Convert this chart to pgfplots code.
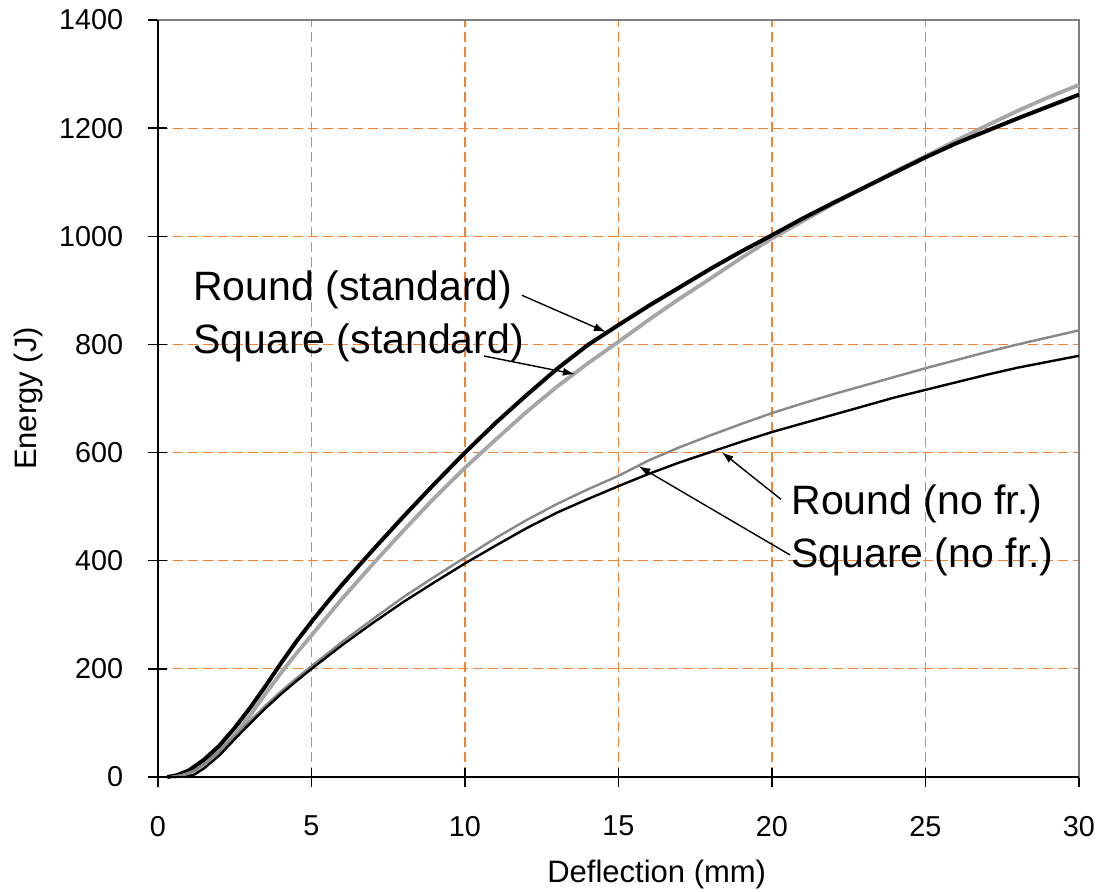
\documentclass[border=0pt]{standalone}
\usepackage{fontspec}
\setmainfont{Liberation Sans}
\usepackage{pgfplots}
\pgfplotsset{compat=1.18}
\usetikzlibrary{arrows.meta}
\definecolor{gridorange}{RGB}{240,130,50}
\definecolor{thickgray}{RGB}{166,166,166}
\definecolor{thingray}{RGB}{136,136,136}
\definecolor{framegray}{RGB}{128,128,128}
\begin{document}
\begin{tikzpicture}
\useasboundingbox (-79pt,-57pt) rectangle (470pt,388.5pt);
\begin{axis}[
  at={(0,0)}, anchor=south west,
  scale only axis, width=460.5pt, height=378.5pt,
  xmin=0, xmax=30, ymin=0, ymax=1400,
  xtick={0,5,...,30}, ytick={0,200,...,1400},
  tick pos=left, tick align=center,
  major tick length=9.5pt,
  every tick/.style={black, line width=0.7pt},
  axis line style={framegray, line width=0.8pt},
  grid=major,
  major grid style={gridorange, dash pattern=on 5pt off 2.5pt, line width=0.6pt},
  /pgf/number format/assume math mode=true,
  /pgf/number format/1000 sep={},
  ticklabel style={font=\fontsize{14.4}{17}\selectfont},
  yticklabel style={inner sep=0pt, anchor=east, xshift=-12.5pt},
  xticklabel style={inner sep=0pt, anchor=north, yshift=-14.5pt},
  xlabel={Deflection (mm)},
  ylabel={Energy (J)},
  label style={font=\fontsize{15.5}{18}\selectfont},
  xlabel style={at={([yshift=-52.7pt]axis description cs:0.5415,0)}, anchor=base, inner sep=0pt},
  ylabel style={at={([xshift=-60.5pt]axis description cs:0,0.5)}, anchor=base, inner sep=0pt},
  clip=false,
]
% Square (standard)
\addplot[thickgray, line width=1.9pt] coordinates {
(0.5,0)(0.8,3)(1.2,12)(1.5,24)(2,47)(2.5,78)(3,114)(3.5,154)(4,192)(4.5,228)(5,262)(5.5,296)(6,330)(7,394)(8,456)(9,516)(10,572)(11,624)(12,675)(13,722)(14,765)(15,805)(16,846)(17,885)(18,922)(19,960)(20,996)(21,1028)(22,1060)(23,1090)(24,1120)(25,1148)(26,1177)(27,1205)(28,1232)(29,1257)(30,1280)};
% Round (standard)
\addplot[black, line width=2pt] coordinates {
(0.3,0)(0.6,3)(1,12)(1.5,32)(2,58)(2.5,91)(3,128)(3.5,168)(4,210)(4.5,250)(5,287)(5.5,322)(6,356)(7,420)(8,482)(9,542)(10,600)(11,655)(12,706)(13,755)(14,799)(15,836)(16,872)(17,906)(18,940)(19,972)(20,1002)(21,1033)(22,1062)(23,1090)(24,1118)(25,1146)(26,1172)(27,1195)(28,1218)(29,1240)(30,1262)};
% Square (no fr.)
\addplot[thingray, line width=1.2pt] coordinates {
(0.4,0)(0.8,4)(1.2,12)(1.5,24)(2,48)(2.5,76)(3,104)(3.5,132)(4,158)(4.5,182)(5,205)(6,250)(7,292)(8,333)(9,370)(10,406)(11,442)(12,475)(13,505)(14,532)(15,557)(16,586)(17,610)(18,632)(19,653)(20,673)(21,691)(22,708)(23,724)(24,740)(25,756)(26,771)(27,786)(28,800)(29,813)(30,826)};
% Round (no fr.)
\addplot[black, line width=1.2pt] coordinates {
(0.9,0)(1.2,5)(1.5,16)(2,40)(2.5,70)(3,99)(3.5,127)(4,153)(4.5,177)(5,200)(6,244)(7,285)(8,324)(9,360)(10,395)(11,428)(12,460)(13,489)(14,514)(15,538)(16,561)(17,582)(18,601)(19,620)(20,638)(21,654)(22,670)(23,686)(24,702)(25,716)(26,730)(27,744)(28,757)(29,768)(30,779)};
\draw[black, line width=0.8pt] (rel axis cs:0,1) -- (rel axis cs:0,0) -- (rel axis cs:1,0);
% annotations
\begin{scope}[every node/.style={font=\fontsize{20.5}{24}\selectfont, inner sep=0pt, anchor=base west}]
\node at (axis cs:1.14,882) {Round (standard)};
\node at (axis cs:1.14,783.6) {Square (standard)};
\node at (axis cs:20.62,486.4) {Round (no fr.)};
\node at (axis cs:20.62,387) {Square (no fr.)};
\end{scope}
\begin{scope}[line width=0.7pt, -{Latex[length=6pt,width=4pt]}]
\draw (axis cs:11.85,891) -- (axis cs:14.59,823);
\draw (axis cs:10.62,778.6) -- (axis cs:13.58,745);
\draw (axis cs:20.29,513.6) -- (axis cs:18.36,601);
\draw (axis cs:20.59,410.6) -- (axis cs:15.65,575);
\end{scope}
\end{axis}
\end{tikzpicture}
\end{document}
